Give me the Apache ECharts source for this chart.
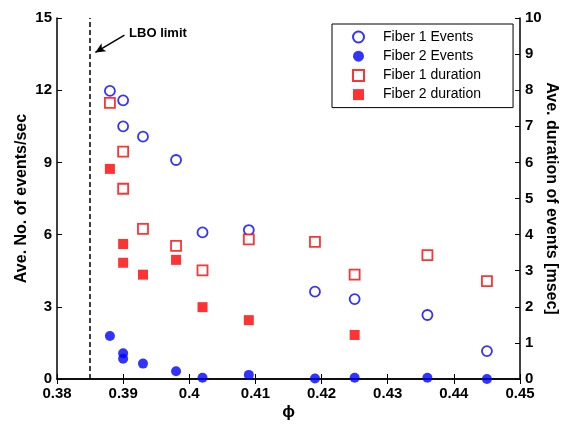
<!DOCTYPE html>
<html>
<head>
<meta charset="utf-8">
<script src="https://cdn.jsdelivr.net/npm/echarts@6/dist/echarts.min.js"></script>
<style>html,body{margin:0;padding:0;background:#fff}#c{width:562px;height:424px}</style>
</head>
<body>
<div id="c"></div>
<script>
// ---- data ----
const phiAll = [0.388, 0.390, 0.390, 0.393, 0.398, 0.402, 0.409, 0.419, 0.425, 0.436, 0.445];
const fiber1Events = [11.97, 11.58, 10.50, 10.07, 9.10, 6.09, 6.19, 3.63, 3.32, 2.66, 1.16];
const fiber2Events = [1.79, 1.07, 0.84, 0.64, 0.32, 0.05, 0.17, 0.02, 0.05, 0.05, 0.0];
const fiber1Duration = [7.65, 6.30, 5.27, 4.16, 3.69, 3.01, 3.87, 3.80, 2.89, 3.43, 2.71];
const phiF2Dur = [0.388, 0.390, 0.390, 0.393, 0.398, 0.402, 0.409, 0.425];
const fiber2Duration = [5.82, 3.74, 3.22, 2.89, 3.30, 1.99, 1.63, 1.22];
const lboLimit = 0.385;
const arrowTail = [0.3902, 14.29];
const arrowHead = [0.3858, 13.57];
const lboLabelPos = [0.3909, 14.37];

const pairs = (xs, ys) => xs.map((x, i) => [x, ys[i]]);
const FONT = '"Liberation Sans", Arial, sans-serif';
const axisLine = {show: true, lineStyle: {color: '#000', width: 1.5}};
const tick = {show: true, inside: true, length: 5, lineStyle: {color: '#000', width: 1}};
const lbl = {color: '#000', fontFamily: FONT, fontWeight: 'bold', fontSize: 15};

const chart = echarts.init(document.getElementById('c'));
chart.setOption({
  animation: false,
  backgroundColor: '#fff',
  grid: {left: 57, right: 42, top: 18, bottom: 45, containLabel: false, outerBoundsMode: 'none'},
  xAxis: [{
    type: 'value', min: 0.38, max: 0.45, interval: 0.01, position: 'bottom',
    axisLine, axisTick: tick, splitLine: {show: false},
    axisLabel: Object.assign({margin: 7, formatter: v => (Math.round(v * 100) / 100).toString()}, lbl),
    name: 'ϕ', nameLocation: 'middle', nameGap: 25, nameMoveOverlap: false,
    nameTextStyle: {color: '#000', fontFamily: FONT, fontWeight: 'bold', fontSize: 17}
  }, {
    type: 'value', min: 0.38, max: 0.45, interval: 0.01, position: 'top',
    axisLine, axisTick: tick, splitLine: {show: false}, axisLabel: {show: false}
  }],
  yAxis: [{
    type: 'value', min: 0, max: 15, interval: 3, position: 'left',
    axisLine, axisTick: tick, splitLine: {show: false},
    axisLabel: Object.assign({margin: 5}, lbl),
    name: 'Ave. No. of events/sec', nameLocation: 'middle', nameGap: 27, nameMoveOverlap: false,
    nameTextStyle: {color: '#000', fontFamily: FONT, fontWeight: 'bold', fontSize: 16}
  }, {
    type: 'value', min: 0, max: 10, interval: 1, position: 'right',
    axisLine, axisTick: tick, splitLine: {show: false},
    axisLabel: Object.assign({margin: 5}, lbl),
    name: 'Ave. duration of events [msec]', nameLocation: 'middle', nameGap: 23, nameRotate: -90,
    nameMoveOverlap: false,
    nameTextStyle: {color: '#000', fontFamily: FONT, fontWeight: 'bold', fontSize: 16}
  }],
  legend: {
    orient: 'vertical', left: 332, top: 24,
    backgroundColor: '#fff', borderColor: '#000', borderWidth: 1,
    padding: [6, 32, 6, 20], itemWidth: 11, itemHeight: 11, itemGap: 5.2,
    textStyle: {color: '#000', fontFamily: FONT, fontSize: 14, padding: [0, 0, 0, 14]},
    data: ['Fiber 1 Events', 'Fiber 2 Events', 'Fiber 1 duration', 'Fiber 2 duration']
  },
  series: [{
    name: 'Fiber 1 Events', type: 'scatter', xAxisIndex: 0, yAxisIndex: 0, clip: false,
    symbol: 'circle', symbolSize: 10,
    itemStyle: {color: '#fff', borderColor: '#0000ff', borderWidth: 1.8},
    data: pairs(phiAll, fiber1Events),
    markLine: {
      silent: true, animation: false,
      data: [
        [{coord: [lboLimit, 0], symbol: 'none', lineStyle: {color: '#000', width: 1.5, type: [5, 3]}},
         {coord: [lboLimit, 15], symbol: 'none'}],
        [{coord: arrowTail, symbol: 'none', lineStyle: {color: '#000', width: 1.5, type: 'solid'}},
         {coord: arrowHead, symbol: 'arrow', symbolSize: [7, 10]}]
      ],
      label: {show: false}
    },
    markPoint: {
      silent: true, animation: false, symbol: 'circle', symbolSize: 0,
      data: [{coord: lboLabelPos, value: 'LBO limit'}],
      label: {show: true, position: 'right', distance: 0, formatter: 'LBO limit',
        color: '#000', fontFamily: FONT, fontWeight: 'bold', fontSize: 13}
    }
  }, {
    name: 'Fiber 2 Events', type: 'scatter', xAxisIndex: 0, yAxisIndex: 0, clip: false,
    symbol: 'circle', symbolSize: 10,
    itemStyle: {color: '#0000ff'},
    data: pairs(phiAll, fiber2Events)
  }, {
    name: 'Fiber 1 duration', type: 'scatter', xAxisIndex: 0, yAxisIndex: 1, clip: false,
    symbol: 'rect', symbolSize: 10,
    itemStyle: {color: '#fff', borderColor: '#ff0000', borderWidth: 1.8},
    data: pairs(phiAll, fiber1Duration)
  }, {
    name: 'Fiber 2 duration', type: 'scatter', xAxisIndex: 0, yAxisIndex: 1, clip: false,
    symbol: 'rect', symbolSize: 10,
    itemStyle: {color: '#ff0000'},
    data: pairs(phiF2Dur, fiber2Duration)
  }]
});
</script>
</body>
</html>
